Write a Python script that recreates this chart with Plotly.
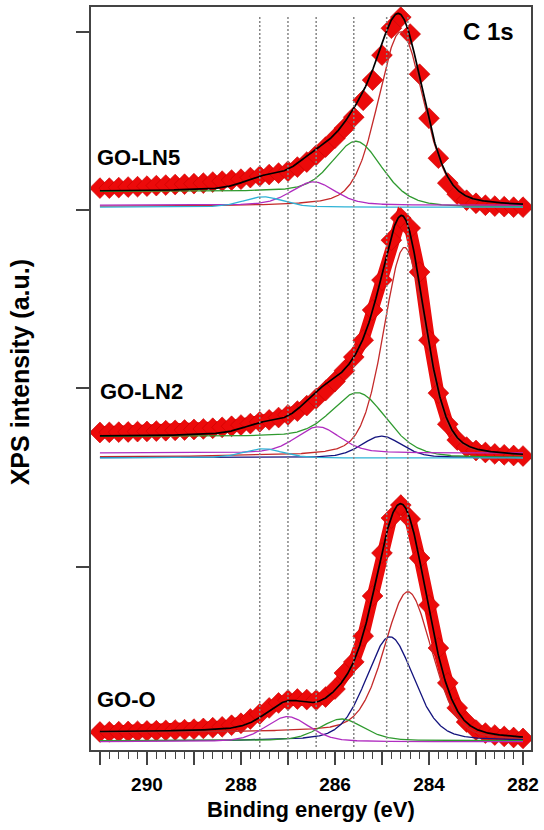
import numpy as np
import plotly.graph_objects as go

# ---------------- data ----------------
binding_energy = [291.0, 290.8, 290.6, 290.4, 290.2, 290.0, 289.8, 289.6, 289.4, 289.2,
                  289.0, 288.8, 288.6, 288.4, 288.2, 288.0, 287.8, 287.6, 287.4, 287.2,
                  287.0, 286.8, 286.6, 286.4, 286.2, 286.0, 285.8, 285.6, 285.4, 285.2,
                  285.0, 284.8, 284.6, 284.4, 284.2, 284.0, 283.8, 283.6, 283.4, 283.2,
                  283.0, 282.8, 282.6, 282.4, 282.2, 282.0]

go_ln5_counts = [3.124, 3.124, 3.127, 3.130, 3.132, 3.135, 3.138, 3.141, 3.144, 3.146,
                 3.149, 3.152, 3.158, 3.163, 3.169, 3.174, 3.183, 3.191, 3.200, 3.208,
                 3.219, 3.242, 3.270, 3.309, 3.354, 3.404, 3.460, 3.522, 3.617, 3.730,
                 3.870, 4.021, 4.083, 3.988, 3.763, 3.516, 3.292, 3.152, 3.090, 3.056,
                 3.039, 3.028, 3.023, 3.020, 3.017, 3.017]

go_ln2_counts = [1.753, 1.754, 1.755, 1.756, 1.758, 1.759, 1.761, 1.763, 1.765, 1.767,
                 1.770, 1.773, 1.777, 1.782, 1.788, 1.795, 1.803, 1.813, 1.824, 1.837,
                 1.852, 1.873, 1.904, 1.943, 1.988, 2.039, 2.100, 2.176, 2.271, 2.440,
                 2.608, 2.832, 2.956, 2.900, 2.653, 2.271, 1.974, 1.800, 1.711, 1.671,
                 1.652, 1.641, 1.633, 1.628, 1.624, 1.621]

go_o_counts = [0.073, 0.074, 0.075, 0.076, 0.077, 0.079, 0.080, 0.082, 0.084, 0.086,
               0.089, 0.093, 0.097, 0.102, 0.111, 0.122, 0.146, 0.174, 0.208, 0.236,
               0.252, 0.258, 0.255, 0.252, 0.269, 0.314, 0.404, 0.466, 0.611, 0.836,
               1.077, 1.273, 1.346, 1.268, 1.049, 0.785, 0.544, 0.348, 0.208, 0.129,
               0.084, 0.067, 0.056, 0.048, 0.042, 0.037]

# fitted peak components (centre eV, height, FWHM eV)
component_names = ["C=C", "C-C", "C-OH", "C-O-C", "C=O"]

go_ln5_centers = [284.60, None, 285.54, 286.46, 287.53]
go_ln5_heights = [0.98, None, 0.29, 0.131, 0.058]
go_ln5_fwhm = [1.15, None, 1.20, 1.10, 1.00]
go_ln5_offset = [0.004, None, 0.0, 0.011, 0.0]
go_ln5_background = {"base": 3.017, "high": 3.105, "centre": 284.75, "width": 0.35}

go_ln2_centers = [284.52, 285.01, 285.50, 286.36, 287.53]
go_ln2_heights = [1.175, 0.121, 0.257, 0.147, 0.052]
go_ln2_fwhm = [1.05, 1.00, 1.30, 1.10, 1.00]
go_ln2_offset = [0.004, 0.0, 0.0, 0.026, -0.002]
go_ln2_background = {"base": 1.612, "high": 1.730, "centre": 284.70, "width": 0.35}

go_o_centers = [284.44, 284.83, 285.86, 287.01, None]
go_o_heights = [0.818, 0.585, 0.122, 0.141, None]
go_o_fwhm = [1.20, 1.20, 1.10, 1.10, None]
go_o_offset = [0.0, 0.0, 0.002, -0.004, None]
go_o_background = {"base": 0.022, "high": 0.071, "centre": 284.60, "width": 0.40}

# which component is drawn riding on the background
go_ln5_on_background = "C-OH"
go_ln2_on_background = "C-OH"
go_o_on_background = "C=C"

lorentz_fraction = 0.3

reference_lines_ev = [287.6, 287.0, 286.4, 285.6, 284.9, 284.45]

sample_labels = ["GO-LN5", "GO-LN2", "GO-O"]
x_tick_values = [282, 283, 284, 285, 286, 287, 288, 289, 290, 291]
x_tick_text = ["282", "", "284", "", "286", "", "288", "", "290", ""]
y_tick_values = [1, 2, 3, 4]

# ---------------- styles ----------------
comp_colors = {"C=C": "#c42a2a", "C-C": "#14147e", "C-OH": "#2f9a2f",
               "C-O-C": "#b02cc0", "C=O": "#2fb3d6"}
data_color = "#ec0a0a"
FONT = "Liberation Sans"


def pseudo_voigt(e, c, f, m):
    u = (e - c) / f
    return (1 - m) * np.exp(-4 * np.log(2) * u ** 2) + m / (1 + 4 * u ** 2)


def background(e, bg):
    return bg["base"] + (bg["high"] - bg["base"]) / (1 + np.exp(-(e - bg["centre"]) / bg["width"]))


e_fine = np.linspace(291.0, 282.0, 901)

spectra = [
    (go_ln5_counts, go_ln5_centers, go_ln5_heights, go_ln5_fwhm, go_ln5_offset,
     go_ln5_background, go_ln5_on_background, False),
    (go_ln2_counts, go_ln2_centers, go_ln2_heights, go_ln2_fwhm, go_ln2_offset,
     go_ln2_background, go_ln2_on_background, True),
    (go_o_counts, go_o_centers, go_o_heights, go_o_fwhm, go_o_offset,
     go_o_background, go_o_on_background, True),
]

fig = go.Figure()

for counts, cen, hei, fw, off, bg, on_bg, dense in spectra:
    # measured points
    fig.add_trace(go.Scatter(
        x=binding_energy, y=counts,
        mode="lines+markers" if dense else "markers",
        line=dict(color=data_color, width=12),
        marker=dict(symbol="diamond", size=16, color=data_color,
                    line=dict(width=0.6, color="#c80000")),
        hoverinfo="skip"))
    bgc = background(e_fine, bg)
    envelope = bgc.copy()
    for name, c, h, f, o in zip(component_names, cen, hei, fw, off):
        if c is None:
            continue
        peak = h * pseudo_voigt(e_fine, c, f, lorentz_fraction)
        envelope += peak
        if name == on_bg:
            yline = bgc + peak
        else:
            yline = bg["base"] + o + peak
        fig.add_trace(go.Scatter(x=e_fine, y=yline, mode="lines",
                                 line=dict(color=comp_colors[name], width=1.3),
                                 hoverinfo="skip"))
    fig.add_trace(go.Scatter(x=e_fine, y=envelope, mode="lines",
                             line=dict(color="black", width=1.7), hoverinfo="skip"))

for xv in reference_lines_ev:
    fig.add_shape(type="line", xref="x", yref="paper", x0=xv, x1=xv, y0=0.004, y1=0.989,
                  line=dict(color="#858585", width=1.5, dash="2px,2px"), layer="above")

axis_col = "#444444"
fig.update_xaxes(range=[291.19, 281.83], autorange=False, automargin=False,
                 showgrid=False, zeroline=False,
                 showline=True, mirror=True, linecolor=axis_col, linewidth=1.5,
                 tickmode="array", tickvals=x_tick_values, ticktext=x_tick_text,
                 ticks="outside", ticklen=13, tickwidth=1.5, tickcolor=axis_col,
                 ticklabelstandoff=3,
                 tickfont=dict(family=FONT, size=19, color="black", weight="bold"),
                 minor=dict(ticks="outside", ticklen=7, tickwidth=1.2, tickcolor=axis_col,
                            tickmode="linear", tick0=282, dtick=0.2, showgrid=False))
fig.update_yaxes(range=[-0.028, 4.14], autorange=False, automargin=False,
                 showgrid=False, zeroline=False,
                 showline=True, mirror=True, linecolor=axis_col, linewidth=1.5,
                 tickmode="array", tickvals=y_tick_values, showticklabels=False,
                 ticks="outside", ticklen=13, tickwidth=1.5, tickcolor=axis_col)

label_pos = [(0.009, 0.798), (0.016, 0.482), (0.009, 0.0673)]
ann = []
for text, (px, py) in zip(sample_labels, label_pos):
    ann.append(dict(text="<b>%s</b>" % text, xref="paper", yref="paper", x=px, y=py,
                    xanchor="left", yanchor="middle", showarrow=False,
                    font=dict(family=FONT, size=22, color="black")))
ann.append(dict(text="<b>C 1s</b>", xref="paper", yref="paper", x=0.9045, y=0.967,
                xanchor="center", yanchor="middle", showarrow=False,
                font=dict(family=FONT, size=24, color="black")))
ann.append(dict(text="<b>Binding energy (eV)</b>", xref="paper", yref="paper", x=0.5, y=-0.0807,
                xanchor="center", yanchor="middle", showarrow=False,
                font=dict(family=FONT, size=22, color="black")))
ann.append(dict(text="<b>XPS intensity (a.u.)</b>", xref="paper", yref="paper", x=-0.161, y=0.5085,
                xanchor="center", yanchor="middle", showarrow=False, textangle=-90,
                font=dict(family=FONT, size=25, color="black")))

fig.update_layout(width=544, height=830, margin=dict(l=91, r=13, t=7, b=80),
                  plot_bgcolor="white", paper_bgcolor="white", showlegend=False,
                  annotations=ann)

fig.write_html("out.html",
               config={"displayModeBar": False},
               post_script="document.body.style.margin='0px';"
                           "document.body.style.overflow='hidden';")
